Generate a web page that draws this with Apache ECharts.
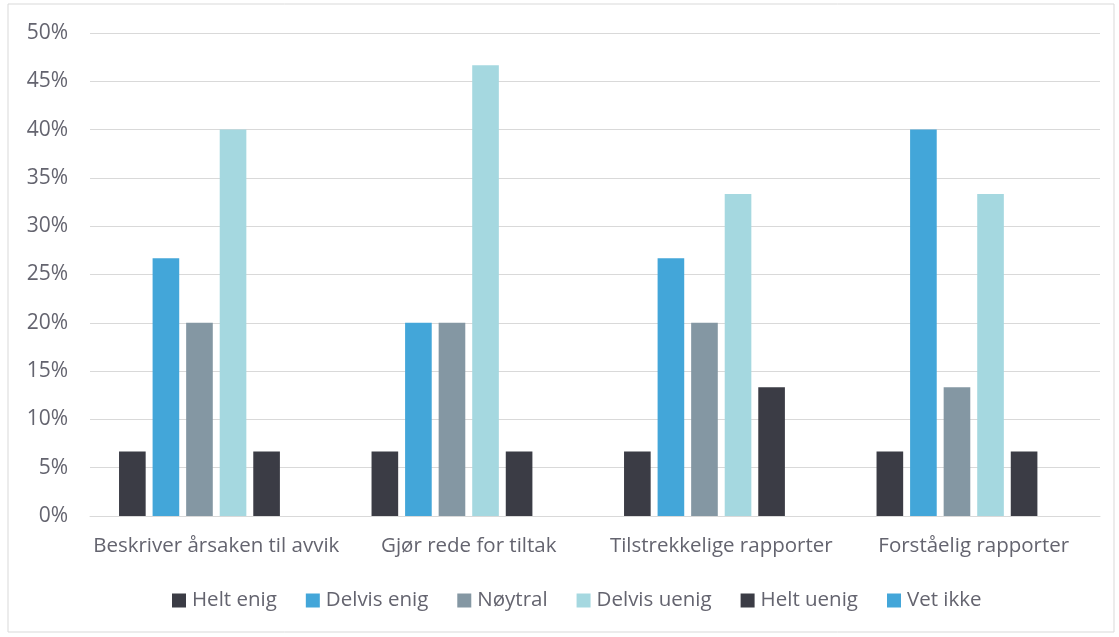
<!DOCTYPE html>
<html>
<head>
<meta charset="utf-8">
<script src="https://cdn.jsdelivr.net/npm/echarts@6/dist/echarts.min.js"></script>
<style>
  html, body { margin: 0; padding: 0; background: #fff; }
  #chart { width: 1119px; height: 637px; }
</style>
</head>
<body>
<div id="chart"></div>
<script>
// categories and answer shares (percent)
const categories = [
  "Beskriver årsaken til avvik",
  "Gjør rede for tiltak",
  "Tilstrekkelige rapporter",
  "Forståelig rapporter",
];
const seriesNames = ["Helt enig", "Delvis enig", "Nøytral", "Delvis uenig", "Helt uenig", "Vet ikke"];
const heltEnig = [6.67, 6.67, 6.67, 6.67];
const delvisEnig = [26.67, 20, 26.67, 40];
const noytral = [20, 20, 20, 13.33];
const delvisUenig = [40, 46.67, 33.33, 33.33];
const heltUenig = [6.67, 6.67, 13.33, 6.67];
const vetIkke = [0, 0, 0, 0];

const colors = ["#3b3c45", "#43a6d9", "#8497a3", "#a5d8e0", "#3b3c45", "#43a6d9"];
const allData = [heltEnig, delvisEnig, noytral, delvisUenig, heltUenig, vetIkke];

const textColor = "#64646f";
const font = "Open Sans";

const chart = echarts.init(document.getElementById("chart"));

const option = {
  animation: false,
  color: colors,
  graphic: [
    {
      type: "rect",
      shape: { x: 8, y: 4, width: 1106, height: 628 },
      style: { fill: "none", stroke: "#d9d9d9", lineWidth: 1 },
      silent: true,
    },
  ],
  grid: {
    left: 90,
    right: 19,
    top: 33,
    bottom: 121,
    containLabel: false,
  },
  legend: {
    bottom: 21,
    left: 167,
    itemWidth: 14,
    itemHeight: 14,
    itemGap: 29,
    icon: "rect",
    textStyle: { color: textColor, fontFamily: font, fontSize: 20.5, padding: [0, 0, 0, 1] },
    data: seriesNames,
  },
  xAxis: {
    type: "category",
    data: categories,
    axisLine: { lineStyle: { color: "#d9d9d9", width: 1 } },
    axisTick: { show: false },
    axisLabel: { color: textColor, fontFamily: font, fontSize: 20.5, margin: 20, interval: 0 },
  },
  yAxis: {
    type: "value",
    min: 0,
    max: 50,
    interval: 5,
    axisLine: { show: false },
    axisTick: { show: false },
    axisLabel: {
      color: textColor,
      fontFamily: font,
      fontSize: 21,
      margin: 22,
      formatter: (v) => v + "%",
    },
    splitLine: { lineStyle: { color: "#d9d9d9", width: 1 } },
  },
  series: seriesNames.map((name, i) => ({
    name: name,
    type: "bar",
    data: allData[i],
    barGap: "26%",
    barCategoryGap: "23%",
    itemStyle: { color: colors[i] },
  })),
};

chart.setOption(option);
</script>
</body>
</html>
